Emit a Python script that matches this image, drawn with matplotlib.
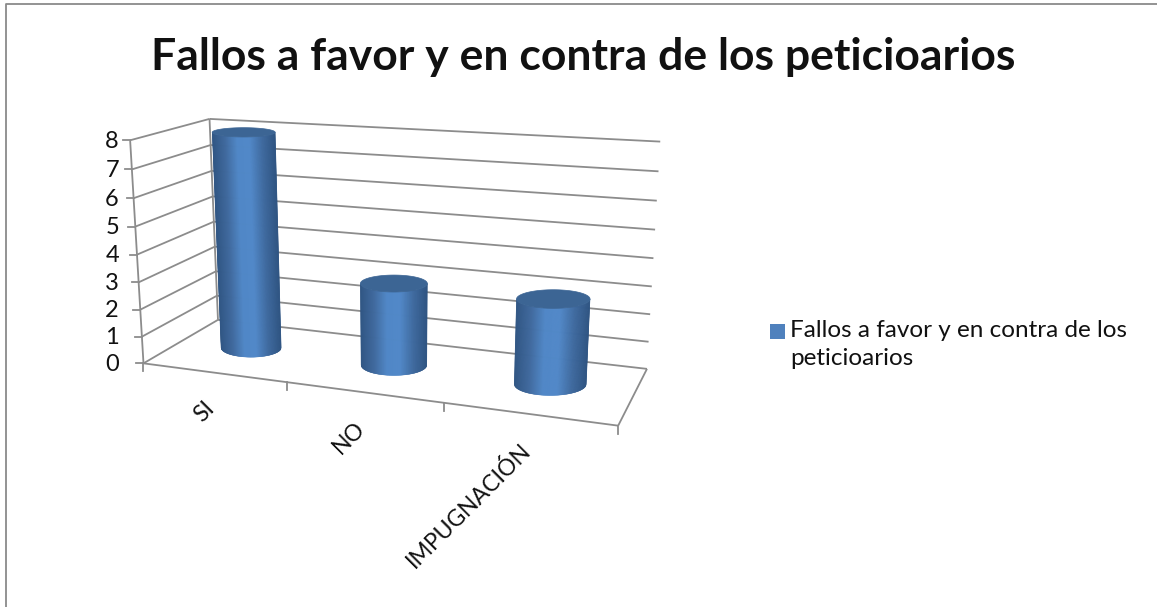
import numpy as np
import matplotlib
matplotlib.use('Agg')
import matplotlib.pyplot as plt
from matplotlib.colors import LinearSegmentedColormap
from matplotlib.patches import Rectangle

categories = ['SI', 'NO', 'IMPUGNACIÓN']
values = [8, 3, 3]
series_name = 'Fallos a favor y en contra de los\npeticioarios'
title = 'Fallos a favor y en contra de los peticioarios'
y_ticks = list(range(9))

grid_color = '#8c8c8c'
text_color = '#111111'
bar_cmap = LinearSegmentedColormap.from_list(
    'cyl', ['#2f5583', '#3f689c', '#5087c7', '#5188c8', '#3f6a9f', '#2f5583'])
cap_color = '#3c6594'

# (category, value, depth) -> pixel, depth 0 is the front of the floor
anchors_3d = [(0, 0, 0), (1, 0, 0), (2, 0, 0), (3, 0, 0), (0, 0, 1), (3, 0, 1),
              (0, 8, 0), (0, 8, 1), (3, 8, 1), (0, 4, 0), (0, 4, 1), (3, 4, 1)]
anchors_px = [(144, 363), (287, 383), (444, 403), (618, 426), (218, 320), (647, 368),
              (130, 140), (210, 119), (660, 142), (137, 254), (213, 222), (654, 258)]


def fit_camera(pts3d, pts2d):
    rows = []
    for (X, Y, Z), (u, v) in zip(pts3d, pts2d):
        rows.append([X, Y, Z, 1, 0, 0, 0, 0, -u*X, -u*Y, -u*Z, -u])
        rows.append([0, 0, 0, 0, X, Y, Z, 1, -v*X, -v*Y, -v*Z, -v])
    _, _, vt = np.linalg.svd(np.array(rows, dtype=float))
    return vt[-1].reshape(3, 4)


cam = fit_camera(anchors_3d, anchors_px)


def project(x, y, z):
    x, y, z = np.broadcast_arrays(x, y, z)
    p = cam @ np.vstack([x.ravel(), y.ravel(), z.ravel(), np.ones(x.size)])
    return p[0] / p[2], p[1] / p[2]


def line3d(ax, a, b, lw=1.3):
    xs, ys = project([a[0], b[0]], [a[1], b[1]], [a[2], b[2]])
    ax.plot(xs, ys, color=grid_color, lw=lw, solid_capstyle='butt', zorder=1)


def disc(cx, val, rx, rz, cz):
    # ellipse kept level on the screen, sized from the box at that height
    x0, y0 = project(cx, val, cz)
    xl, _ = project(cx - rx, val, cz)
    xr, _ = project(cx + rx, val, cz)
    _, yf = project(cx, val, cz - rz)
    _, yb = project(cx, val, cz + rz)
    return x0[0], y0[0], (xr[0] - xl[0]) / 2, abs(yf[0] - yb[0]) / 2


def cylinder(ax, cx, val, rx=0.22, rz=0.21, cz=0.52, order=3):
    xb, yb, wb, hb = disc(cx, 0, rx, rz, cz)
    xt, yt, wt, ht = disc(cx, val, rx, rz, cz)
    u = np.linspace(-1, 1, 161)
    arc = np.sqrt(1 - u**2)
    X = np.vstack([xb + wb*u, xt + wt*u])
    Y = np.vstack([yb + hb*arc, yt + ht*arc])
    C = 0.5 * (u[:-1] + u[1:]).reshape(1, -1) * 0.5 + 0.5
    ax.pcolormesh(X, Y, C, cmap=bar_cmap, vmin=0, vmax=1, shading='flat',
                  edgecolors='face', linewidth=0.3, antialiased=True, zorder=order, snap=False)
    full = np.linspace(0, 2*np.pi, 120)
    ax.fill(xt + wt*np.cos(full), yt + ht*np.sin(full), color=cap_color, lw=0.5, zorder=order + 0.5)


plt.rcParams['font.family'] = ['Lato', 'DejaVu Sans']

fig = plt.figure(figsize=(11.57, 6.07), dpi=100)
ax = fig.add_axes([0, 0, 1, 1])
ax.set_xlim(0, 1157)
ax.set_ylim(607, 0)
ax.axis('off')

# the frame only shows on the top and left of the picture
ax.plot([6, 6, 1157], [607, 4, 4], color='#8a8a8a', lw=1.3)
ax.text(583, 57, title, ha='center', va='center', fontsize=32, fontweight='bold', color=text_color)

n = len(categories)
for v in y_ticks:
    line3d(ax, (0, v, 0), (0, v, 1))
    line3d(ax, (0, v, 1), (n, v, 1))
    tx, ty = project(0, v, 0)
    ax.plot([tx[0] - 7, tx[0]], [ty[0], ty[0]], color=grid_color, lw=1.3, zorder=1)
    ax.text(119, ty[0] + 1, str(v), ha='right', va='center', fontsize=17, color=text_color)

line3d(ax, (0, 0, 0), (0, 8, 0))
line3d(ax, (0, 0, 1), (0, 8, 1))
line3d(ax, (0, 0, 0), (n, 0, 0))
line3d(ax, (n, 0, 0), (n, 0, 1))

for i in range(n + 1):
    tx, ty = project(i, 0, 0)
    ax.plot([tx[0], tx[0]], [ty[0], ty[0] + 8], color=grid_color, lw=1.3, zorder=1)

for i, name in enumerate(categories):
    tx, ty = project(i + 0.5, 0, 0)
    ax.text(tx[0] - 10, ty[0] + 25, name, rotation=45, ha='right', va='top',
            rotation_mode='anchor', fontsize=16.5, color=text_color)

for i, v in enumerate(values):
    cylinder(ax, i + 0.5, v)

ax.add_patch(Rectangle((770, 324), 15, 15, fc='#4f81bd', ec='none'))
ax.text(790, 320, series_name, ha='left', va='top', fontsize=17.5, color=text_color, linespacing=1.42)

fig.savefig('out.png', dpi=100)
